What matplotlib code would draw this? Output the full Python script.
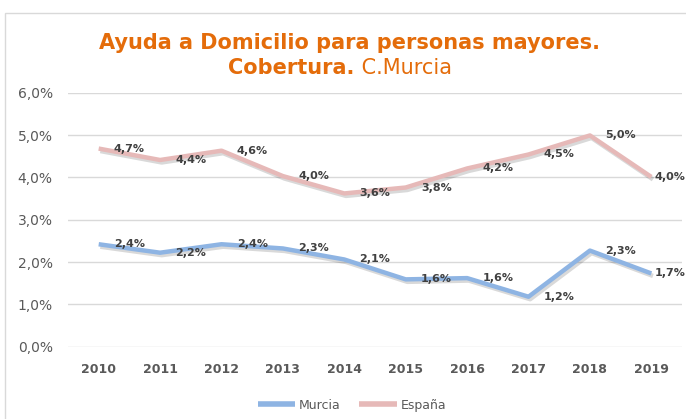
import matplotlib.pyplot as plt
import matplotlib.patheffects as pe
from matplotlib.patches import Rectangle

# Datos
years = ['2010', '2011', '2012', '2013', '2014', '2015', '2016', '2017', '2018', '2019']
murcia = [2.42, 2.22, 2.42, 2.32, 2.06, 1.59, 1.62, 1.18, 2.27, 1.73]
espana = [4.68, 4.41, 4.63, 4.03, 3.62, 3.76, 4.21, 4.54, 4.99, 4.01]
yticks = [0, 1, 2, 3, 4, 5, 6]

orange = '#E46C0A'
blue = '#8EB4E3'
pink = '#E6B9B8'
gray = '#595959'

fig = plt.figure(figsize=(6.86, 4.19), dpi=100)
ax = fig.add_axes([0.0991, 0.1726, 0.8951, 0.6062])

# marco del grafico
fig.patches.append(Rectangle((5 / 686, -0.1), 1.1, 1 - 13 / 419 + 0.1,
                             transform=fig.transFigure, fill=False,
                             edgecolor='#D9D9D9', linewidth=1))

x = list(range(len(years)))
shadow = [pe.SimpleLineShadow(offset=(1.2, -1.8), shadow_color='black', alpha=0.15),
          pe.Normal()]
ax.plot(x, murcia, color=blue, linewidth=3.2, solid_capstyle='butt',
        path_effects=shadow, label='Murcia', zorder=3)
ax.plot(x, espana, color=pink, linewidth=3.2, solid_capstyle='butt',
        path_effects=shadow, label='España', zorder=3)

# etiquetas de datos
for serie in (murcia, espana):
    for i, v in enumerate(serie):
        dx = 11 if i < len(serie) - 1 else 2.5
        ax.annotate(f'{v:.1f}%'.replace('.', ','), (i, v), xytext=(dx, 0),
                    textcoords='offset points', ha='left', va='center',
                    fontsize=8, fontweight='bold', color='#404040',
                    annotation_clip=False, zorder=4)

ax.set_xlim(-0.5, 9.5)
ax.set_ylim(0, 6)
ax.set_yticks(yticks)
ax.set_yticklabels([f'{t},0%' for t in yticks], fontsize=10, color=gray)
ax.set_xticks(x)
ax.set_xticklabels(years, fontsize=9, fontweight='bold', color=gray)
ax.tick_params(axis='both', length=0)
ax.tick_params(axis='y', pad=11)
ax.tick_params(axis='x', pad=12)
ax.grid(axis='y', color='#D9D9D9', linewidth=1)
ax.set_axisbelow(True)
for s in ax.spines.values():
    s.set_visible(False)

# titulo
fig.text(0.51, 1 - 43 / 419, 'Ayuda a Domicilio para personas mayores.',
         ha='center', va='center', fontsize=15, fontweight='bold',
         color=orange, family='DejaVu Sans')
fig.text(0.517, 1 - 68 / 419, 'Cobertura.', ha='right', va='center',
         fontsize=15, fontweight='bold', color=orange, family='DejaVu Sans')
fig.text(0.517, 1 - 68 / 419, ' C.Murcia', ha='left', va='center',
         fontsize=15, color=orange, family='DejaVu Sans')

leg = fig.legend(loc='center', bbox_to_anchor=(352 / 686, 1 - 405 / 419), ncol=2,
                 frameon=False, fontsize=9, handlelength=3, columnspacing=1.5,
                 handletextpad=0.3, labelcolor=gray)
for h in leg.get_lines():
    h.set_linewidth(4)
    h.set_path_effects([])

fig.savefig('out.png', dpi=100)
